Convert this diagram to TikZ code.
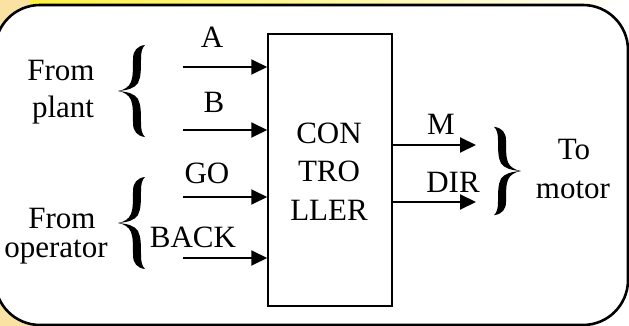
\documentclass[tikz,border=0pt]{standalone}
\usepackage{fontspec}
\setmainfont{Liberation Serif}
\usetikzlibrary{arrows.meta}
\definecolor{cornertan}{HTML}{F9E2A2}
\definecolor{stripyellow}{HTML}{FFF23C}
\begin{document}
\begin{tikzpicture}[x=1pt,y=-1pt,
  txt/.style={font=\fontsize{31}{37}\selectfont, inner sep=0pt, anchor=base},
  sig/.style={line width=2pt, -{Triangle[length=16pt,width=15pt]}},
  frame/.style={line width=2.6pt, rounded corners=45pt},
  pics/curly/.style={code={
    \fill (13,-46) .. controls (5,-45) and (1,-40) .. (1,-32)
      .. controls (1,-22) and (1,-14) .. (-1,-9)
      .. controls (-3,-4) and (-8,-1) .. (-14,0)
      .. controls (-8,1) and (-3,4) .. (-1,9)
      .. controls (1,14) and (1,22) .. (1,32)
      .. controls (1,40) and (5,45) .. (13,46)
      .. controls (10,43) and (9,39) .. (9,32)
      .. controls (9,22) and (9,14) .. (6,8)
      .. controls (3,3) and (-4,0.8) .. (-14,0)
      .. controls (-4,-0.8) and (3,-3) .. (6,-8)
      .. controls (9,-14) and (9,-22) .. (9,-32)
      .. controls (9,-39) and (10,-43) .. (13,-46) -- cycle;
  }}
]
\useasboundingbox (0,0) rectangle (629,326);

% background corners and frame
\fill[cornertan] (0,0) rectangle (60,326);
\shade[left color=stripyellow, right color=white] (30,0) rectangle (629,6);
\fill[white, frame] (-5,5) rectangle (628,325);
\draw[frame] (-5,5) rectangle (628,325);

% controller block
\node[draw, line width=1.5pt, minimum width=124pt, minimum height=272pt] (ctrl) at (330,170) {};
\node[txt] (con) at (329,143) {CON};
\node[txt] (tro) at (329,182) {TRO};
\node[txt] (ller) at (329,220) {LLER};

% input signals
\coordinate (inA) at (183,67);
\coordinate (inB) at (183,130);
\coordinate (inGO) at (183,197);
\coordinate (inBACK) at (183,258);
\draw[sig] (inA) -- (inA -| ctrl.west);
\draw[sig] (inB) -- (inB -| ctrl.west);
\draw[sig] (inGO) -- (inGO -| ctrl.west);
\draw[sig] (inBACK) -- (inBACK -| ctrl.west);
\node[txt] (labA) at (212,48) {A};
\node[txt] (labB) at (214,113) {B};
\node[txt] (labGO) at (207,183) {GO};
\node[txt] (labBACK) at (193,247) {BACK};

% output signals
\coordinate (outM) at (476,145);
\coordinate (outDIR) at (476,202);
\draw[sig] (outM -| ctrl.east) -- (outM);
\draw[sig] (outDIR -| ctrl.east) -- (outDIR);
\node[txt] (labM) at (441,135) {M};
\node[txt] (labDIR) at (453,192) {DIR};

% braces and group labels
\pic (bplant) at (132,91) {curly};
\pic (boper) at (132,223) {curly};
\pic[xscale=-1, yscale=0.96] (bmotor) at (507,171) {curly};
\node[txt] (from1) at (61,81) {From};
\node[txt] (plant) at (63,118) {plant};
\node[txt] (from2) at (62,228) {From};
\node[txt] (oper) at (56,257) {operator};
\node[txt] (to) at (574,160) {To};
\node[txt] (motor) at (573,198) {motor};
\end{tikzpicture}
\end{document}
